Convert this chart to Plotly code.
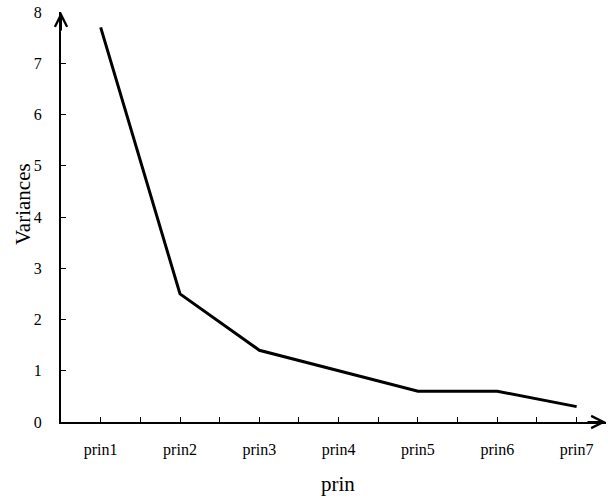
import plotly.graph_objects as go

categories = ["prin1", "prin2", "prin3", "prin4", "prin5", "prin6", "prin7"]
variances = [7.7, 2.5, 1.4, 1.0, 0.6, 0.6, 0.3]
y_ticks = [0, 1, 2, 3, 4, 5, 6, 7, 8]

FONT = "Liberation Serif, Times New Roman, serif"
X_MIN, X_MAX = -0.5, 6.37
Y_MIN, Y_MAX = 0, 8

fig = go.Figure()
fig.add_trace(go.Scatter(
    x=categories, y=variances, mode="lines",
    line=dict(color="black", width=3), showlegend=False,
))
# helper trace on linear overlay axis for tick marks
fig.add_trace(go.Scatter(x=[X_MIN], y=[Y_MIN], xaxis="x2", mode="markers",
                         marker=dict(opacity=0), showlegend=False, hoverinfo="skip"))

fig.update_layout(
    width=608, height=498,
    margin=dict(l=61, r=2, t=12, b=76),
    paper_bgcolor="white", plot_bgcolor="white",
    font=dict(family=FONT, color="black", size=14),
    xaxis=dict(
        type="category", range=[X_MIN, X_MAX],
        showline=True, linecolor="black", linewidth=2,
        ticks="", showgrid=False, zeroline=False,
        tickfont=dict(size=16, family=FONT, color="black"), ticklabelstandoff=12,
    ),
    xaxis2=dict(
        overlaying="x", type="linear", range=[X_MIN, X_MAX], side="bottom",
        tick0=0, dtick=0.5, ticks="inside", ticklen=5, tickwidth=1, tickcolor="black",
        showticklabels=False, showgrid=False, zeroline=False, showline=False,
    ),
    yaxis=dict(
        range=[Y_MIN, Y_MAX], tickvals=y_ticks,
        showline=True, linecolor="black", linewidth=2,
        ticks="inside", ticklen=5, tickwidth=1, tickcolor="black",
        showgrid=False, zeroline=False,
        tickfont=dict(size=16, family=FONT, color="black"), ticklabelstandoff=14,
    ),
)

# axis titles
fig.add_annotation(text="Variances", xref="paper", yref="paper",
                   x=0, y=(422 - 204) / 410, xshift=-38, xanchor="center", yanchor="middle",
                   textangle=-90, showarrow=False,
                   font=dict(size=21, family=FONT, color="black"))
fig.add_annotation(text="prin", xref="paper", yref="paper",
                   x=(338 - 61) / 545, y=0, yshift=-62, xanchor="center", yanchor="middle",
                   showarrow=False, font=dict(size=21, family=FONT, color="black"))

# axis arrows
fig.add_annotation(x=X_MIN, y=Y_MAX, xref="x2", yref="y", ax=0, ay=20,
                   showarrow=True, arrowhead=5, arrowsize=1.2, arrowwidth=2,
                   arrowcolor="black", text="")
fig.add_annotation(x=X_MAX, y=Y_MIN, xref="x2", yref="y", ax=-20, ay=0,
                   showarrow=True, arrowhead=5, arrowsize=1.2, arrowwidth=2,
                   arrowcolor="black", text="")

fig.write_html("out.html")
